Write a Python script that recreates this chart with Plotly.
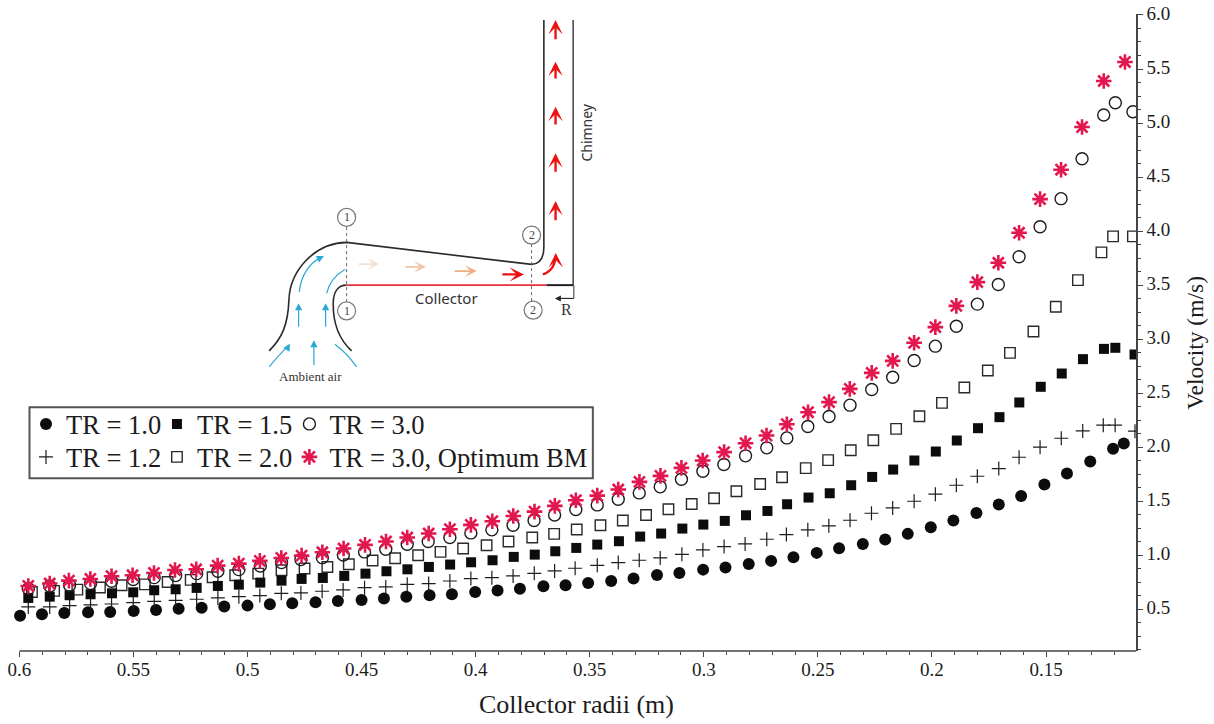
import plotly.graph_objects as go

x_tr10 = [.5997,.5901,.5803,.5699,.5602,.5499,.5401,.5302,.5201,.5102,.5000,.4902,.4804,.4702,.4604,.4500,.4402,.4304,.4202,.4104,.4002,.3904,.3806,.3703,.3606,.3507,.3406,.3308,.3205,.3107,.3003,.2905,.2803,.2705,.2607,.2505,.2407,.2303,.2205,.2106,.2005,.1906,.1805,.1707,.1609,.1507,.1408,.1306,.1206,.1159]
y_tr10 = [.441,.454,.466,.472,.475,.485,.494,.506,.515,.525,.534,.546,.556,.565,.577,.586,.599,.617,.630,.639,.660,.673,.691,.713,.722,.744,.762,.784,.818,.836,.867,.886,.920,.948,.981,1.022,1.065,1.105,1.145,1.198,1.259,1.321,1.392,1.469,1.549,1.654,1.756,1.867,1.985,2.034]

x_tr12 = [.5961,.5867,.5780,.5688,.5596,.5501,.5409,.5315,.5223,.5130,.5038,.4946,.4852,.4766,.4673,.4581,.4487,.4394,.4300,.4206,.4113,.4021,.3929,.3836,.3743,.3654,.3564,.3467,.3375,.3283,.3191,.3096,.3004,.2911,.2819,.2724,.2638,.2544,.2452,.2359,.2265,.2172,.2078,.1985,.1893,.1801,.1707,.1618,.1526,.1433,.1339,.1249,.1197,.1110]
y_tr12 = [.522,.522,.534,.540,.549,.562,.574,.583,.593,.605,.617,.627,.648,.651,.667,.679,.700,.707,.731,.738,.762,.784,.793,.809,.833,.855,.880,.907,.932,.954,.975,1.009,1.049,1.080,1.105,1.148,1.191,1.235,1.272,1.324,1.389,1.438,1.500,1.565,1.648,1.731,1.802,1.907,2.000,2.083,2.151,2.204,2.204,2.148]

x_tr15 = [.5961,.5867,.5780,.5688,.5594,.5501,.5409,.5315,.5223,.5130,.5038,.4944,.4851,.4763,.4670,.4576,.4483,.4391,.4299,.4205,.4112,.4020,.3926,.3833,.3741,.3651,.3559,.3467,.3372,.3279,.3187,.3094,.3002,.2908,.2815,.2721,.2635,.2541,.2448,.2354,.2262,.2170,.2077,.1983,.1891,.1798,.1704,.1617,.1523,.1431,.1338,.1246,.1196,.1112]
y_tr15 = [.605,.617,.630,.639,.648,.657,.676,.685,.698,.716,.728,.747,.765,.781,.790,.809,.830,.852,.870,.892,.914,.935,.954,.985,1.006,1.037,1.068,1.099,1.130,1.173,1.201,1.247,1.284,1.318,1.370,1.410,1.472,1.534,1.574,1.648,1.725,1.793,1.877,1.960,2.062,2.176,2.278,2.414,2.559,2.682,2.815,2.910,2.920,2.858]

x_tr20 = [.5945,.5848,.5746,.5647,.5552,.5450,.5350,.5249,.5153,.5054,.4953,.4851,.4750,.4650,.4556,.4452,.4353,.4252,.4154,.4055,.3952,.3856,.3752,.3656,.3557,.3453,.3355,.3253,.3155,.3053,.2955,.2857,.2753,.2657,.2553,.2455,.2356,.2257,.2157,.2055,.1956,.1858,.1755,.1658,.1555,.1457,.1360,.1257,.1206,.1119]
y_tr20 = [.660,.670,.682,.701,.722,.731,.753,.772,.796,.815,.830,.861,.877,.892,.917,.951,.972,1.000,1.031,1.062,1.093,1.127,1.164,1.198,1.238,1.278,1.321,1.373,1.426,1.475,1.528,1.593,1.660,1.722,1.806,1.880,1.972,2.065,2.170,2.287,2.410,2.552,2.710,2.873,3.071,3.300,3.546,3.803,3.951,3.951]

x_tr30 = [.5961,.5867,.5780,.5688,.5596,.5501,.5409,.5315,.5223,.5130,.5038,.4944,.4851,.4766,.4672,.4580,.4487,.4394,.4300,.4208,.4113,.4021,.3929,.3836,.3744,.3654,.3561,.3467,.3375,.3283,.3191,.3098,.3004,.2912,.2817,.2724,.2636,.2544,.2451,.2359,.2264,.2172,.2078,.1985,.1893,.1801,.1709,.1618,.1526,.1434,.1342,.1247,.1196,.1119]
y_tr30 = [.691,.716,.722,.738,.759,.775,.793,.812,.830,.852,.867,.901,.932,.960,.978,1.003,1.031,1.056,1.102,1.127,1.164,1.207,1.235,1.278,1.321,1.373,1.423,1.466,1.519,1.577,1.633,1.704,1.778,1.840,1.920,1.994,2.086,2.191,2.284,2.389,2.534,2.648,2.802,2.935,3.120,3.324,3.506,3.762,4.040,4.300,4.670,5.074,5.188,5.105]

x_opt = [.5961,.5867,.5783,.5689,.5596,.5504,.5410,.5318,.5225,.5131,.5038,.4946,.4852,.4763,.4672,.4579,.4485,.4393,.4300,.4206,.4113,.4021,.3927,.3835,.3742,.3653,.3561,.3467,.3375,.3282,.3190,.3098,.3005,.2911,.2817,.2725,.2636,.2543,.2451,.2360,.2264,.2172,.2078,.1985,.1893,.1801,.1709,.1618,.1526,.1434,.1342,.1247,.1154]
y_opt = [.716,.738,.765,.781,.806,.815,.836,.864,.870,.904,.923,.948,.975,.997,1.028,1.062,1.096,1.127,1.164,1.201,1.241,1.281,1.315,1.364,1.404,1.457,1.509,1.552,1.608,1.679,1.735,1.809,1.877,1.954,2.037,2.108,2.213,2.324,2.417,2.540,2.688,2.799,2.966,3.111,3.308,3.528,3.707,3.984,4.296,4.568,4.963,5.389,5.565]

x_ticks = [0.6, 0.55, 0.5, 0.45, 0.4, 0.35, 0.3, 0.25, 0.2, 0.15]
x_labels = ["0.6", "0.55", "0.5", "0.45", "0.4", "0.35", "0.3", "0.25", "0.2", "0.15"]
y_ticks = [0.5, 1.0, 1.5, 2.0, 2.5, 3.0, 3.5, 4.0, 4.5, 5.0, 5.5, 6.0]
y_labels = ["0.5", "1.0", "1.5", "2.0", "2.5", "3.0", "3.5", "4.0", "4.5", "5.0", "5.5", "6.0"]

SERIF = "Liberation Serif"
INK = "#1c1c1c"
CRIMSON = "#E2174E"
W, H = 1214, 724
ML, MR, MT, MB = 0, 77.7, 14, 73.3
PW, PH = W - ML - MR, H - MT - MB


def X(p):
    return p / PW


def Y(p):
    return (H - MB - p) / PH


def path(s):
    out = []
    for t in s.split():
        if "," in t:
            a, b = t.split(",")
            out.append(f"{X(float(a)):.5f},{Y(float(b)):.5f}")
        else:
            out.append(t)
    return " ".join(out)


fig = go.Figure()
fig.add_trace(go.Scatter(x=x_tr10, y=y_tr10, mode="markers", name="TR = 1.0", legend="legend",
                         marker=dict(symbol="circle", size=12, color="#0c0c0c")))
fig.add_trace(go.Scatter(x=x_tr12, y=y_tr12, mode="markers", name="TR = 1.2", legend="legend2",
                         marker=dict(symbol="cross-thin", size=10, line=dict(color=INK, width=1.2))))
fig.add_trace(go.Scatter(x=x_tr20, y=y_tr20, mode="markers", name="TR = 2.0", legend="legend4",
                         marker=dict(symbol="square-open", size=10.5, color="#2a2a2a", line=dict(width=1.4))))
fig.add_trace(go.Scatter(x=x_tr15, y=y_tr15, mode="markers", name="TR = 1.5", legend="legend3",
                         marker=dict(symbol="square", size=10, color="#0c0c0c")))
fig.add_trace(go.Scatter(x=x_tr30, y=y_tr30, mode="markers", name="TR = 3.0", legend="legend5",
                         marker=dict(symbol="circle-open", size=12, color="#1c1c1c", line=dict(width=1.4))))
fig.add_trace(go.Scatter(x=x_opt, y=y_opt, mode="markers", name="TR = 3.0, Optimum BM", legend="legend6",
                         marker=dict(symbol="asterisk", size=13, line=dict(color=CRIMSON, width=2.6))))

shapes = [
    dict(type="line", xref="x", yref="paper", x0=0.6, x1=0.11055, y0=0, y1=0,
         line=dict(color="#444", width=1.6)),
    dict(type="rect", xref="paper", yref="paper", x0=X(29.5), x1=X(593), y0=Y(407), y1=Y(478),
         line=dict(color="#555", width=2), fillcolor="rgba(0,0,0,0)"),
]


def add_path(s, color, width, dash="solid"):
    shapes.append(dict(type="path", xref="paper", yref="paper", path=path(s),
                       line=dict(color=color, width=width, dash=dash)))


# inset schematic
add_path("M 269.3,350.7 C 282,338 288,325 289,300 C 290,270 315,243 346.7,242.3 L 531.7,264.3 "
         "C 540,264 544,258 544,246.7 L 544,20", "#2b2b2b", 1.6)
add_path("M 573.3,20 L 573.3,285", "#333", 1.4)
add_path("M 351.7,350.7 C 340,340 333,325 333.3,303 C 333.5,292 338,285 346.7,285", "#2b2b2b", 1.6)
add_path("M 346.7,285 L 546.7,285", "#E8303A", 1.6)
add_path("M 546.7,285 L 573.3,285", "#222", 2)
add_path("M 574,285 L 574,298.3 L 562,298.3", "#333", 1)
add_path("M 346.7,227 L 346.7,302", "#666", 1, "dot")
add_path("M 531.7,244 L 531.7,302", "#666", 1, "dot")
for cx, cy in [(346.7, 217.3), (346.7, 310.7), (531.7, 235), (533.3, 310)]:
    shapes.append(dict(type="circle", xref="paper", yref="paper", x0=X(cx - 9), x1=X(cx + 9),
                       y0=Y(cy - 9), y1=Y(cy + 9), line=dict(color="#777", width=1.2),
                       fillcolor="white"))

BLUE = "#2BA8D6"
for s in ["M 269.3,366.7 C 277,357 283,351 289,345",
          "M 356.7,366.7 C 350,357 343,350 335,344",
          "M 299.3,291.7 C 301,275 310,262 322,257",
          "M 326.7,293.3 C 329,283 335,275 345,269.3"]:
    add_path(s, BLUE, 1.2)
add_path("M 543,274.3 C 552,271 555,265 556,255", "#EE1111", 2.4)

annotations = []


def arrow(x0, y0, x1, y1, color, width=1.2, size=1.0, head=3):
    annotations.append(dict(xref="paper", yref="paper", x=X(x1), y=Y(y1), ax=x0 - x1, ay=y0 - y1,
                            axref="pixel", ayref="pixel", text="", showarrow=True, arrowhead=head,
                            arrowsize=size, arrowwidth=width, arrowcolor=color))


for a in [(288, 347, 290, 343.5), (337, 345.5, 334.3, 343.3), (320, 258, 324, 256), (344, 270, 347, 268.5),
          (314, 366.7, 314, 340), (298.7, 328, 298.7, 303), (325.7, 328, 325.7, 303)]:
    arrow(*a, BLUE, 1.2, 1.2, 2)
arrow(357.3, 264, 379.3, 264, "#F3E1D3", 1.8, 1.1)
arrow(404, 266.7, 426, 266.7, "#F1C6A6", 1.8, 1.1)
arrow(453.3, 271, 476.7, 271, "#EEAD83", 1.8, 1.1)
arrow(501, 274.3, 524, 274.3, "#EE1111", 2.4, 1.0)
for y0, y1 in [(40.7, 20), (80, 61.7), (126, 106.7), (173.3, 153.3), (221.7, 201)]:
    arrow(555.7, y0, 555.7, y1, "#EE1111", 2.4, 1.0)
arrow(556, 259, 556, 253, "#EE1111", 2.4, 1.0)
arrow(574, 298.3, 555, 298.3, "#222", 1, 1.2, 2)


def label(txt, px, py, size, font=SERIF, color=INK, angle=0):
    annotations.append(dict(xref="paper", yref="paper", x=X(px), y=Y(py), text=txt, showarrow=False,
                            xanchor="center", yanchor="middle", textangle=angle,
                            font=dict(family=font, size=size, color=color)))


for txt, px, py in [("1", 346.7, 217.3), ("1", 346.7, 310.7), ("2", 531.7, 235), ("2", 533.3, 310)]:
    label(txt, px, py, 12, color="#444")
label("Collector", 446.7, 297.7, 15, "Noto Sans", "#333")
label("Chimney", 586.7, 133, 14, "Noto Sans", "#333", -90)
label("R", 566.7, 309.3, 16, SERIF, "#333")
label("Ambient air", 310.7, 376.7, 13, SERIF, "#333")
label("Collector radii (m)", 577, 704, 26)
label("Velocity (m/s)", 1195, 343, 23.5, angle=-90)

legend_common = dict(orientation="v", yanchor="top", xanchor="left", bgcolor="rgba(0,0,0,0)",
                     borderwidth=0, font=dict(family=SERIF, size=26.5, color=INK),
                     itemsizing="trace", tracegroupgap=0)
ROW1, ROW2 = 400, 433
COL1, COL2, COL3 = 26, 157, 289.5

fig.update_layout(
    width=W, height=H, margin=dict(l=ML, r=MR, t=MT, b=MB, pad=0, autoexpand=False),
    paper_bgcolor="white", plot_bgcolor="white", showlegend=True,
    font=dict(family=SERIF, color=INK),
    xaxis=dict(range=[0.6085, 0.11055], tickmode="array", tickvals=x_ticks, ticktext=x_labels,
               showgrid=False, zeroline=False, showline=False, ticks="outside", ticklen=5,
               tickcolor="#444", tickwidth=1.4, tickfont=dict(family=SERIF, size=19, color=INK),
               ticklabelstandoff=-4,
               minor=dict(ticks="outside", dtick=0.01, tick0=0.6, ticklen=3, tickcolor="#444", tickwidth=1.2,
                          showgrid=False)),
    yaxis=dict(range=[0.114, 6.009], side="right", tickmode="array", tickvals=y_ticks, ticktext=y_labels,
               showgrid=False, zeroline=False, showline=True, linecolor="#444", linewidth=1.6,
               ticks="outside", ticklen=5, tickcolor="#444", tickwidth=1.4,
               tickfont=dict(family=SERIF, size=19, color=INK), ticklabelshift=-2,
               minor=dict(ticks="outside", dtick=0.125, tick0=0.5, ticklen=3, tickcolor="#444", tickwidth=1.2,
                          showgrid=False)),
    legend=dict(x=X(COL1), y=Y(ROW1), **legend_common),
    legend2=dict(x=X(COL1), y=Y(ROW2), **legend_common),
    legend3=dict(x=X(COL2), y=Y(ROW1), **legend_common),
    legend4=dict(x=X(COL2), y=Y(ROW2), **legend_common),
    legend5=dict(x=X(COL3), y=Y(ROW1), **legend_common),
    legend6=dict(x=X(COL3), y=Y(ROW2), **legend_common),
    shapes=shapes,
    annotations=annotations,
)

fig.write_html("out.html", config={"displayModeBar": False},
               post_script="document.body.style.margin='0';document.body.style.overflow='hidden';")
